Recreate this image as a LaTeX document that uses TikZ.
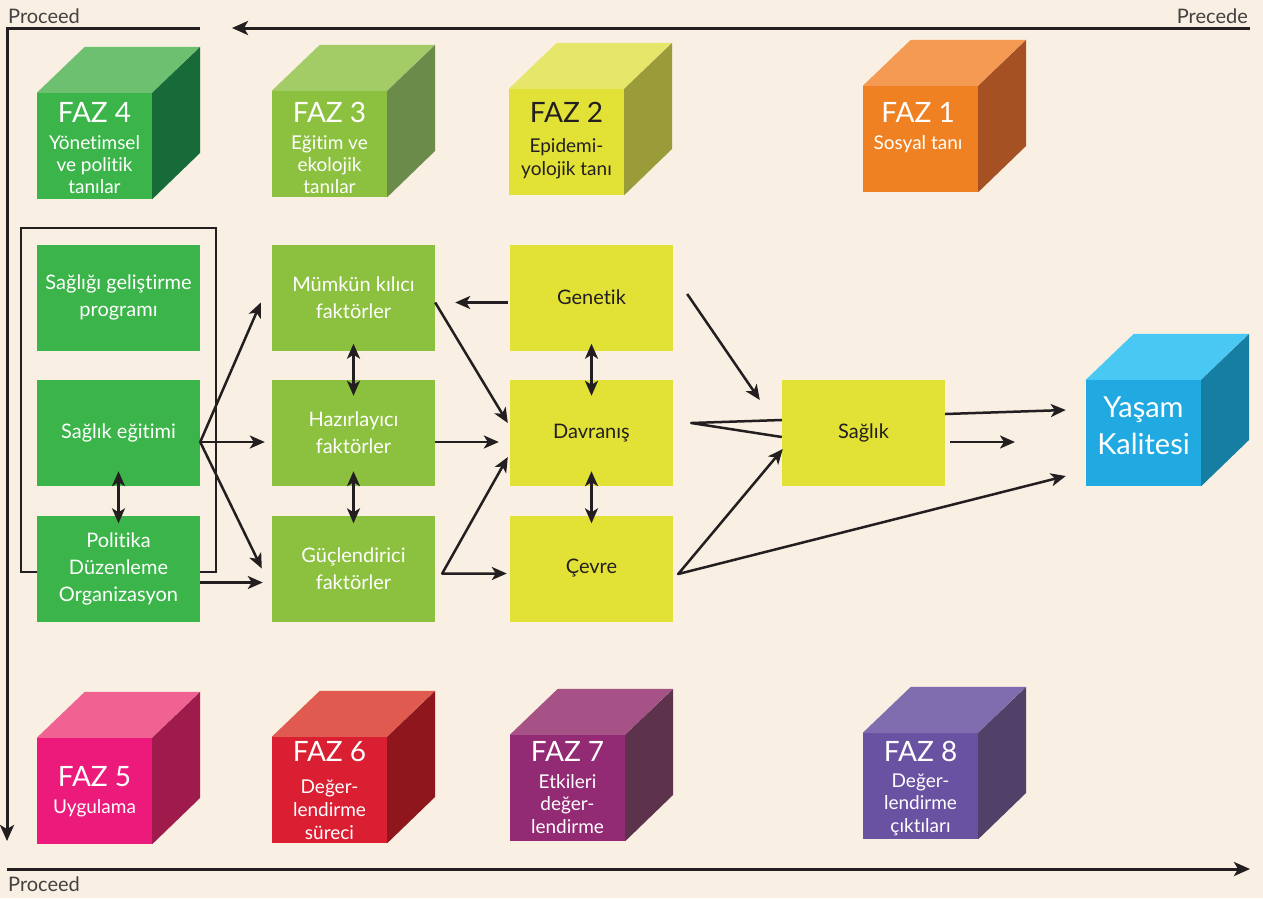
\documentclass[tikz,border=0pt]{standalone}
\usepackage{fontspec}
\setmainfont{Lato}[Ligatures=NoCommon]
\usetikzlibrary{arrows.meta,calc}
\definecolor{bg}{HTML}{F9EFE2}
\definecolor{ink}{HTML}{231F20}
\definecolor{gfront}{HTML}{3BB54A}\definecolor{gtop}{HTML}{6CC070}\definecolor{gside}{HTML}{176B38}
\definecolor{lfront}{HTML}{8CC13F}\definecolor{ltop}{HTML}{A3CC66}\definecolor{lside}{HTML}{6B8B4B}
\definecolor{yfront}{HTML}{E2E236}\definecolor{ytop}{HTML}{E6E66A}\definecolor{yside}{HTML}{9A9C3A}
\definecolor{ofront}{HTML}{F08122}\definecolor{otop}{HTML}{F59A52}\definecolor{oside}{HTML}{A65123}
\definecolor{bfront}{HTML}{21A9E1}\definecolor{btop}{HTML}{48C8F2}\definecolor{bside}{HTML}{167DA3}
\definecolor{pfront}{HTML}{EC1A7B}\definecolor{ptop}{HTML}{F06292}\definecolor{pside}{HTML}{9E1B4B}
\definecolor{rfront}{HTML}{DA1F33}\definecolor{rtop}{HTML}{E05A50}\definecolor{rside}{HTML}{8E161C}
\definecolor{mfront}{HTML}{932A74}\definecolor{mtop}{HTML}{A65286}\definecolor{mside}{HTML}{5C324C}
\definecolor{vfront}{HTML}{6A52A3}\definecolor{vtop}{HTML}{806DB0}\definecolor{vside}{HTML}{514068}
\newcommand{\drawcube}[3]{%
  \fill[#2] (#1.north west) -- ++(48,-46) -- ++(115,0) -- (#1.north east) -- cycle;
  \fill[#3] (#1.north east) -- ++(48,-46) -- ++(0,106) -- (#1.south east) -- cycle;}
\begin{document}
\begin{tikzpicture}[x=1pt,y=-1pt,
  box/.style={rectangle, minimum width=163pt, minimum height=106pt, inner sep=0pt, align=center, font=\fontsize{20}{27}\selectfont},
  gbox/.style={box, fill=gfront, text=white},
  lbox/.style={box, fill=lfront, text=white},
  ybox/.style={box, fill=yfront, text=ink},
  front/.style={rectangle, minimum width=115pt, minimum height=106pt, inner sep=0pt},
  ttl/.style={anchor=base, inner sep=0pt, font=\fontsize{28}{30}\selectfont, text=white},
  sub/.style={anchor=base, inner sep=0pt, align=center, font=\fontsize{19}{22}\selectfont, text=white},
  lbl/.style={inner sep=0pt, font=\fontsize{20}{24}\selectfont, text=ink!85},
  con/.style={line width=2.5pt, draw=ink, line join=round},
  arr/.style={con, -{Stealth[length=15pt,width=13pt,inset=4pt]}},
  dbl/.style={con, {Stealth[length=15pt,width=13pt,inset=4pt]}-{Stealth[length=15pt,width=13pt,inset=4pt]}},
  frame/.style={line width=3pt, draw=ink}]
\useasboundingbox (0,0) rectangle (1263,898);
\fill[bg] (0,0) rectangle (1263,898);

% frame
\coordinate (pr) at (1250,28); \coordinate (pl) at (232,28);
\coordinate (c1) at (200,28); \coordinate (c0) at (7,28); \coordinate (c2) at (7,841);
\coordinate (b0) at (7,869); \coordinate (b1) at (1250,869);
\draw[frame, -{Stealth[length=16pt,width=14pt,inset=4pt]}] (pr) -- (pl);
\draw[frame, -{Stealth[length=16pt,width=14pt,inset=4pt]}] (c1) -- (c0) -- (c2);
\draw[frame, -{Stealth[length=16pt,width=14pt,inset=4pt]}] (b0) -- (b1);
\node[lbl, anchor=base west] (proc1) at (8,23) {Proceed};
\node[lbl, anchor=base east] (prec) at (1248,23) {Precede};
\node[lbl, anchor=base west] (proc2) at (8,891) {Proceed};

% top cubes (subtitle nodes are anchored at the baseline of their last line)
\node[front, fill=gfront] (f4) at (94.5,146) {}; \drawcube{f4}{gtop}{gside}
\node[ttl] (t4) at (94.5,122) {FAZ 4};
\node[sub] (s4) at (94.5,193) {Yönetimsel\\ve politik\\tanılar};
\node[front, fill=lfront] (f3) at (329.5,144) {}; \drawcube{f3}{ltop}{lside}
\node[ttl] (t3) at (329.5,122) {FAZ 3};
\node[sub] (s3) at (329.5,193) {Eğitim ve\\ekolojik\\tanılar};
\node[front, fill=yfront] (f2) at (566.5,142) {}; \drawcube{f2}{ytop}{yside}
\node[ttl, text=ink] (t2) at (566.5,122) {FAZ 2};
\node[sub, text=ink, font=\fontsize{19}{23}\selectfont] (s2) at (566.5,175) {Epidemi-\\yolojik tanı};
\node[front, fill=ofront] (f1) at (920.5,139) {}; \drawcube{f1}{otop}{oside}
\node[ttl] (t1) at (918,122) {FAZ 1};
\node[sub] (s1) at (918,149) {Sosyal tanı};

% bottom cubes
\node[front, fill=pfront] (f5) at (94.5,791) {}; \drawcube{f5}{ptop}{pside}
\node[ttl] (t5) at (94.5,786) {FAZ 5};
\node[sub] (s5) at (94.5,813) {Uygulama};
\node[front, fill=rfront] (f6) at (329.5,790) {}; \drawcube{f6}{rtop}{rside}
\node[ttl] (t6) at (329.5,761) {FAZ 6};
\node[sub, font=\fontsize{19}{23}\selectfont] (s6) at (329.5,839) {Değer-\\lendirme\\süreci};
\node[front, fill=mfront] (f7) at (567.5,788) {}; \drawcube{f7}{mtop}{mside}
\node[ttl] (t7) at (567.5,761) {FAZ 7};
\node[sub, font=\fontsize{19}{22.5}\selectfont] (s7) at (567.5,833) {Etkileri\\değer-\\lendirme};
\node[front, fill=vfront] (f8) at (920.5,786) {}; \drawcube{f8}{vtop}{vside}
\node[ttl] (t8) at (920.5,761) {FAZ 8};
\node[sub, font=\fontsize{19}{22.5}\selectfont] (s8) at (920.5,832) {Değer-\\lendirme\\çıktıları};

% quality of life cube
\node[front, fill=bfront] (yk) at (1143.5,433) {}; \drawcube{yk}{btop}{bside}
\node[sub, font=\fontsize{29}{37}\selectfont] (ykt) at (1143.5,454) {Yaşam\\Kalitesi};

% group frame
\node[draw=ink, line width=2.8pt, minimum width=195pt, minimum height=344pt, inner sep=0pt] (grp) at (118.5,400) {};

% boxes
\node[gbox] (sg) at (118.5,297.5) {Sağlığı geliştirme\\programı};
\node[gbox] (se) at (118.5,433) {Sağlık eğitimi};
\node[gbox] (po) at (118.5,568.5) {Politika\\Düzenleme\\Organizasyon};
\node[lbox] (mk) at (353.5,297.5) {Mümkün kılıcı\\faktörler};
\node[lbox] (hz) at (353.5,433) {Hazırlayıcı\\faktörler};
\node[lbox] (gc) at (353.5,568.5) {Güçlendirici\\faktörler};
\node[ybox] (ge) at (591.5,297.5) {Genetik};
\node[ybox] (dv) at (591.5,433) {Davranış};
\node[ybox] (cv) at (591.5,568.5) {Çevre};
\node[ybox] (sa) at (863.5,433) {Sağlık};

% connectors
\coordinate (sea) at ($(se.east)+(0,9)$);
\draw[arr] (sea) -- ($(mk.west)+(-11,5)$);
\draw[arr] (sea) -- ($(hz.west)+(-7,9)$);
\draw[arr] (sea) -- ($(gc.west)+(-10,0)$);
\draw[arr] ($(po.east)+(0,14)$) -- ($(gc.west)+(-9,14)$);
\draw[dbl] ($(se.south)+(0,-15)$) -- ($(po.north)+(0,8)$);
\draw[dbl] ($(mk.south)+(0,-7)$) -- ($(hz.north)+(0,16)$);
\draw[dbl] ($(hz.south)+(0,-15)$) -- ($(gc.north)+(0,8)$);
\draw[arr] ($(ge.west)+(-2,5)$) -- ($(mk.east)+(20,5)$);
\draw[arr] ($(mk.east)+(0,5)$) -- ($(dv.west)+(-2,-10)$);
\draw[arr] ($(hz.east)+(0,9)$) -- ($(dv.west)+(-11,9)$);
\coordinate (gcv) at ($(gc.east)+(7,5)$);
\draw[dbl] ($(dv.west)+(-2,24)$) -- (gcv) -- ($(cv.west)+(-3,5)$);
\draw[dbl] ($(ge.south)+(0,-7)$) -- ($(dv.north)+(0,16)$);
\draw[dbl] ($(dv.south)+(0,-15)$) -- ($(cv.north)+(0,8)$);
\draw[arr] ($(ge.east)+(14,-3.5)$) -- ($(sa.west)+(-22,-33)$);
\draw[con] ($(sa.west)+(0,-13)$) -- ($(dv.east)+(18,-10)$) -- ($(sa.west)+(0,4)$);
\coordinate (cvv) at ($(cv.east)+(5,5.5)$);
\draw[dbl] ($(sa.west)+(1,16)$) -- (cvv) -- ($(yk.west)+(-20,43)$);
\draw[arr] ($(sa.east)+(0,-19)$) -- ($(yk.west)+(-20,-23)$);
\coordinate (fr) at (1015,442);
\draw[arr] ($(sa.east)+(5,9)$) -- (fr);
\end{tikzpicture}
\end{document}
